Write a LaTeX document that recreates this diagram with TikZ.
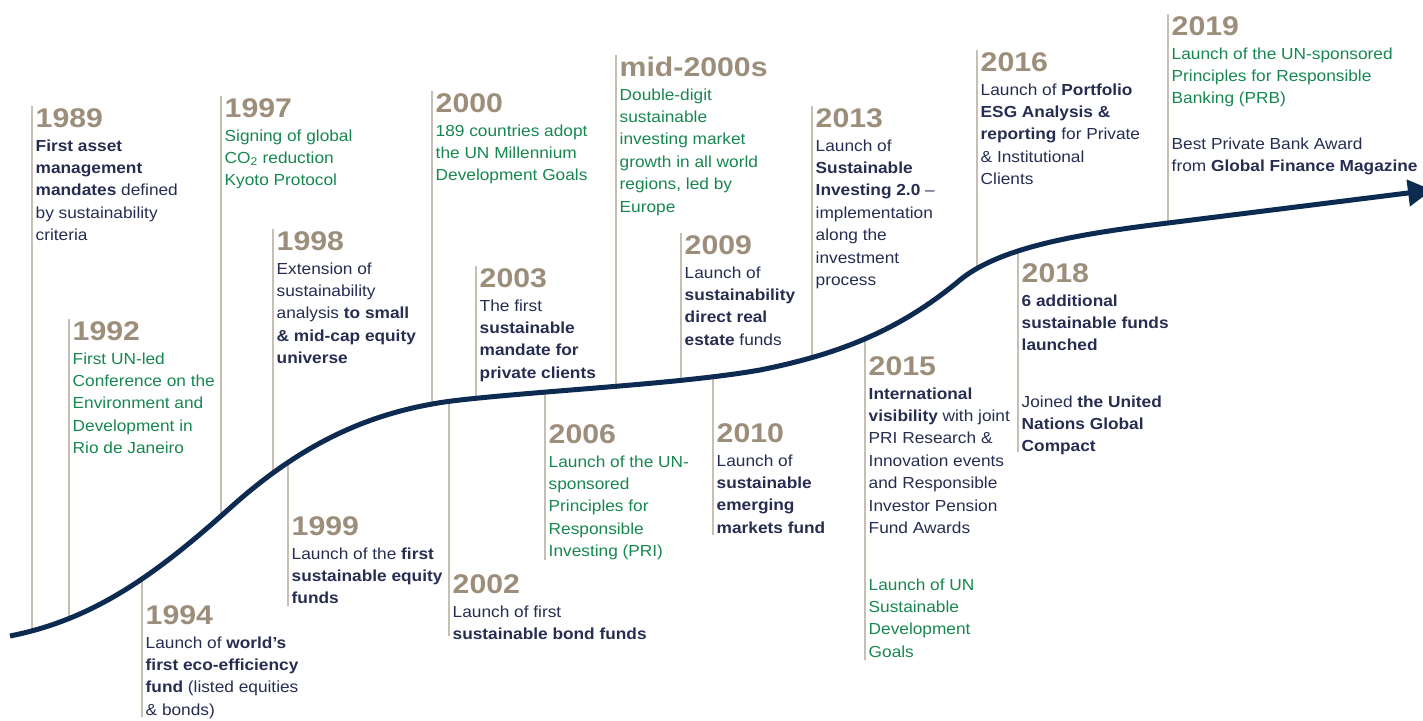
\documentclass[tikz,border=0pt]{standalone}
\usepackage{fontspec}
\setmainfont{Liberation Sans}[FakeStretch=1.08]
\newfontfamily\yearfont{Liberation Sans}[FakeStretch=1.12]
\usetikzlibrary{intersections,arrows.meta}

\definecolor{navy}{HTML}{262D50}
\definecolor{leaf}{HTML}{17874F}
\definecolor{taupe}{HTML}{9C8E7A}
\definecolor{stemc}{HTML}{A89C8C}
\definecolor{curvec}{HTML}{0D2B51}

% stack of left-aligned lines, baseline = first line
\newcommand\tlstack[1]{\vtop{\baselineskip=22.4pt\lineskiplimit=-100pt\let\\\cr\halign{##\hfil\cr#1\crcr}}}

% the growth curve, as one smooth chain of Bezier segments
\newcommand\growthpath{(10,636) .. controls (90,620) and (150,580) .. (230,508)
  .. controls (300,445) and (370,410) .. (460,400)
  .. controls (550,390) and (680,384) .. (760,370)
  .. controls (840,354) and (900,330) .. (960,280)
  .. controls (1000,247) and (1080,234) .. (1160,224)
  -- (1432,190)}

\tikzset{
  yr/.style={font=\yearfont\bfseries\fontsize{27}{27}\selectfont, text=taupe, anchor=base west, inner sep=0pt},
  body/.style={font=\fontsize{16}{22.4}\selectfont, anchor=base west, inner sep=0pt, text=navy},
  un/.style={body, text=leaf},
  stem/.style={draw=stemc, line width=1.3pt},
  trend/.style={draw=curvec, line width=5pt, -{Triangle[length=24pt,width=26pt]}}
}

\begin{document}
\begin{tikzpicture}[x=1pt,y=-1pt]
\useasboundingbox (0,0) rectangle (1423,720);

% growth curve path (named for the stem intersections)
\path[name path=curve] \growthpath;

% stems above the curve: x / top
\foreach \x/\t in {32/106, 69/319, 221/96, 273/229, 432/91, 476/266,
                   616/55, 681/233, 812/106, 977/50, 1168/14} {
  \path[name path=v\x] (\x,0) -- (\x,720);
  \coordinate (top\x) at (\x,\t);
  \draw[stem, name intersections={of=curve and v\x, by=hit\x}] (top\x) -- (hit\x);
}
% stems below the curve: x / bottom
\foreach \x/\b in {142/717, 288/606, 449/636, 545/560, 713/535, 865/660, 1018/452} {
  \path[name path=w\x] (\x,0) -- (\x,720);
  \coordinate (bot\x) at (\x,\b);
  \draw[stem, name intersections={of=curve and w\x, by=meet\x}] (meet\x) -- (bot\x);
}

\draw[trend] \growthpath;

% milestones
\node[yr] (y1989) at (35.5,127) {1989};
\node[body] (t1989) at (35.5,151) {\tlstack{\textbf{First asset}\\\textbf{management}\\\textbf{mandates} defined\\by sustainability\\criteria}};

\node[yr] (y1992) at (72.5,340) {1992};
\node[un] (t1992) at (72.5,364) {\tlstack{First UN-led\\Conference on the\\Environment and\\Development in\\Rio de Janeiro}};

\node[yr] (y1994) at (145.5,624) {1994};
\node[body] (t1994) at (145.5,648) {\tlstack{Launch of \textbf{world’s}\\\textbf{first eco-efficiency}\\\textbf{fund} (listed equities\\\& bonds)}};

\node[yr] (y1997) at (224.5,117) {1997};
\node[un] (t1997) at (224.5,141) {\tlstack{Signing of global\\CO\textsubscript{2} reduction\\Kyoto Protocol}};

\node[yr] (y1998) at (276.5,250) {1998};
\node[body] (t1998) at (276.5,274) {\tlstack{Extension of\\sustainability\\analysis \textbf{to small}\\\textbf{\& mid-cap equity}\\\textbf{universe}}};

\node[yr] (y1999) at (291.5,535) {1999};
\node[body] (t1999) at (291.5,559) {\tlstack{Launch of the \textbf{first}\\\textbf{sustainable equity}\\\textbf{funds}}};

\node[yr] (y2000) at (435.5,112) {2000};
\node[un] (t2000) at (435.5,136) {\tlstack{189 countries adopt\\the UN Millennium\\Development Goals}};

\node[yr] (y2002) at (452.5,593) {2002};
\node[body] (t2002) at (452.5,617) {\tlstack{Launch of first\\\textbf{sustainable bond funds}}};

\node[yr] (y2003) at (479.5,287) {2003};
\node[body] (t2003) at (479.5,311) {\tlstack{The first\\\textbf{sustainable}\\\textbf{mandate for}\\\textbf{private clients}}};

\node[yr] (y2006) at (548.5,443) {2006};
\node[un] (t2006) at (548.5,467) {\tlstack{Launch of the UN-\\sponsored\\Principles for\\Responsible\\Investing (PRI)}};

\node[yr] (ymid) at (619.5,76) {mid-2000s};
\node[un] (tmid) at (619.5,100) {\tlstack{Double-digit\\sustainable\\investing market\\growth in all world\\regions, led by\\Europe}};

\node[yr] (y2009) at (684.5,254) {2009};
\node[body] (t2009) at (684.5,278) {\tlstack{Launch of\\\textbf{sustainability}\\\textbf{direct real}\\\textbf{estate} funds}};

\node[yr] (y2010) at (716.5,442) {2010};
\node[body] (t2010) at (716.5,466) {\tlstack{Launch of\\\textbf{sustainable}\\\textbf{emerging}\\\textbf{markets fund}}};

\node[yr] (y2013) at (815.5,127) {2013};
\node[body] (t2013) at (815.5,151) {\tlstack{Launch of\\\textbf{Sustainable}\\\textbf{Investing 2.0} –\\implementation\\along the\\investment\\process}};

\node[yr] (y2015) at (868.5,375) {2015};
\node[body] (t2015) at (868.5,399) {\tlstack{\textbf{International}\\\textbf{visibility} with joint\\PRI Research \&\\Innovation events\\and Responsible\\Investor Pension\\Fund Awards}};
\node[un] (s2015) at (868.5,590) {\tlstack{Launch of UN\\Sustainable\\Development\\Goals}};

\node[yr] (y2016) at (980.5,71) {2016};
\node[body] (t2016) at (980.5,95) {\tlstack{Launch of \textbf{Portfolio}\\\textbf{ESG Analysis \&}\\\textbf{reporting} for Private\\\& Institutional\\Clients}};

\node[yr] (y2018) at (1021.5,282) {2018};
\node[body] (t2018) at (1021.5,306) {\tlstack{\textbf{6 additional}\\\textbf{sustainable funds}\\\textbf{launched}}};
\node[body] (s2018) at (1021.5,407) {\tlstack{Joined \textbf{the United}\\\textbf{Nations Global}\\\textbf{Compact}}};

\node[yr] (y2019) at (1171.5,35) {2019};
\node[un] (t2019) at (1171.5,59) {\tlstack{Launch of the UN-sponsored\\Principles for Responsible\\Banking (PRB)}};
\node[body] (s2019) at (1171.5,149) {\tlstack{Best Private Bank Award\\from \textbf{Global Finance Magazine}}};
\end{tikzpicture}
\end{document}
